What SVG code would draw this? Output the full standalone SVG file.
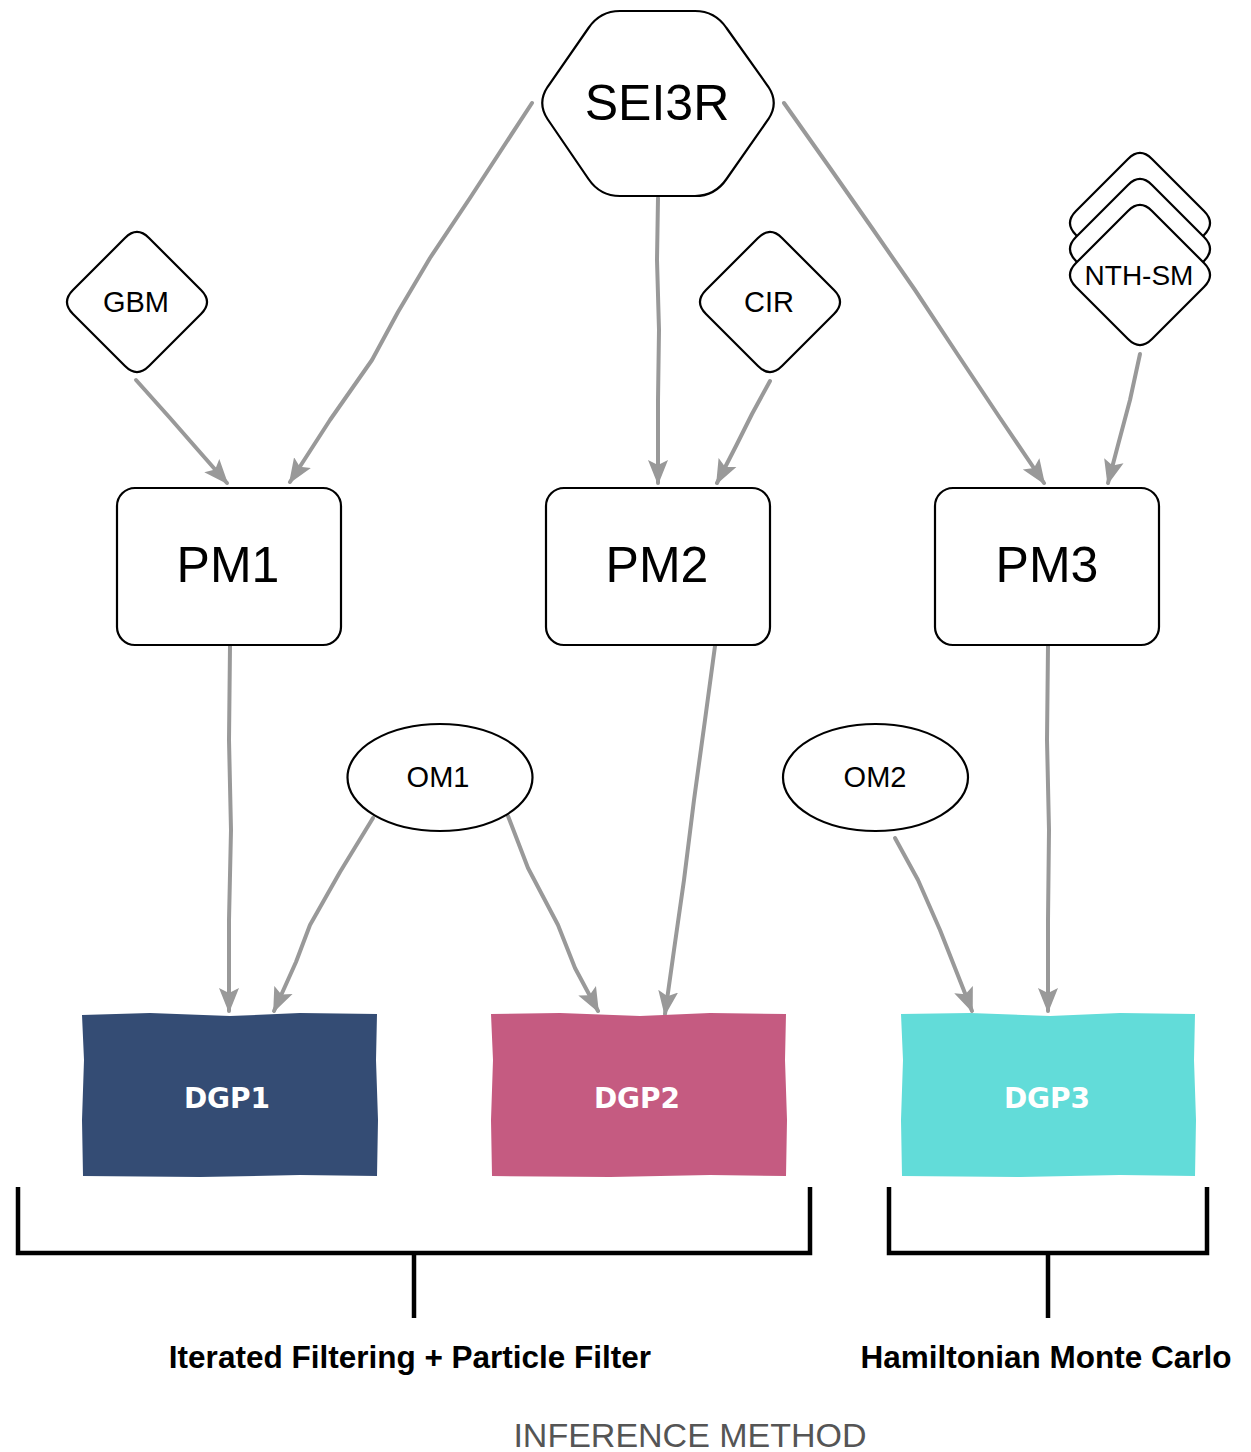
<svg xmlns="http://www.w3.org/2000/svg" width="1251" height="1452" viewBox="0 0 1251 1452">
<style>
.node{fill:#fff;stroke:#000;stroke-width:2.2}
.lbl{font-family:"Liberation Sans",Arial,sans-serif;fill:#000;text-anchor:middle}
.edge{fill:none;stroke:#999;stroke-width:4;stroke-linejoin:round;stroke-linecap:round;marker-end:url(#ah)}
.dgp{font-family:"DejaVu Sans",sans-serif;font-weight:bold;fill:#fff;text-anchor:middle;font-size:28px}
.br{fill:none;stroke:#000;stroke-width:4.5}
.bl{font-family:"Liberation Sans",Arial,sans-serif;font-weight:bold;font-size:31.5px;fill:#000;text-anchor:middle}
</style>
<defs>
<marker id="ah" markerUnits="userSpaceOnUse" markerWidth="26" markerHeight="22" viewBox="0 0 26 22" refX="23" refY="11" orient="auto">
<path d="M0,1 L25,11 L0,21 L5,11 Z" fill="#999"/>
</marker>
<path id="dia" d="M-12,-64 Q0,-76 12,-64 L64,-12 Q76,0 64,12 L12,64 Q0,76 -12,64 L-64,12 Q-76,0 -64,-12 Z"/>
</defs>
<rect width="1251" height="1452" fill="#fff"/>

<g id="connectors">
<path class="edge" d="M532,103 L500,152 L470,198 L430,258 L398,312 L372,360 L330,420 L290,482"/>
<path class="edge" d="M658,198 L657,260 L659,330 L658,400 L658,483"/>
<path class="edge" d="M784,103 L830,168 L872,228 L915,290 L958,355 L1000,418 L1044,483"/>
<path class="edge" d="M136,380 L170,418 L198,450 L227,483"/>
<path class="edge" d="M770,381 L752,414 L736,446 L717,483"/>
<path class="edge" d="M1140,354 L1130,400 L1118,445 L1108,483"/>
<path class="edge" d="M230,646 L229,740 L231,830 L229,920 L229,1011"/>
<path class="edge" d="M373,818 L340,872 L310,925 L296,962 L274,1011"/>
<path class="edge" d="M508,816 L528,868 L558,925 L575,968 L598,1011"/>
<path class="edge" d="M715,646 L705,720 L694,800 L684,880 L674,950 L665,1014"/>
<path class="edge" d="M895,838 L918,880 L940,930 L955,968 L972,1011"/>
<path class="edge" d="M1048,646 L1047,740 L1049,830 L1048,920 L1048,1011"/>
</g>

<g id="SEI3R">
<path class="node" d="M620,11 L695,11 Q715,11 726.5,28 L768.5,87 Q779,103 768.5,119 L726.5,179 Q715,196 695,196 L620,196 Q600,196 588.5,179 L547.5,119 Q537,103 547.5,87 L588.5,28 Q600,11 620,11 Z"/>
<text class="lbl" x="657" y="120" font-size="50">SEI3R</text>
</g>

<g id="GBM">
<use href="#dia" class="node" transform="translate(137,302)"/>
<text class="lbl" x="136" y="312" font-size="29">GBM</text>
</g>

<g id="CIR">
<use href="#dia" class="node" transform="translate(770,302)"/>
<text class="lbl" x="769" y="312" font-size="29">CIR</text>
</g>

<g id="NTH-SM">
<use href="#dia" class="node" transform="translate(1140,223)"/>
<use href="#dia" class="node" transform="translate(1140,249)"/>
<use href="#dia" class="node" transform="translate(1140,275)"/>
<text class="lbl" x="1139" y="285" font-size="28">NTH-SM</text>
</g>

<g id="PM1">
<rect class="node" x="117" y="488" width="224" height="157" rx="18"/>
<text class="lbl" x="228" y="582" font-size="50">PM1</text>
</g>
<g id="PM2">
<rect class="node" x="546" y="488" width="224" height="157" rx="18"/>
<text class="lbl" x="657" y="582" font-size="50">PM2</text>
</g>
<g id="PM3">
<rect class="node" x="935" y="488" width="224" height="157" rx="18"/>
<text class="lbl" x="1047" y="582" font-size="50">PM3</text>
</g>

<g id="OM1">
<ellipse class="node" cx="440" cy="777.5" rx="92.5" ry="53.5"/>
<text class="lbl" x="438" y="787" font-size="29">OM1</text>
</g>
<g id="OM2">
<ellipse class="node" cx="875.5" cy="777.5" rx="92.5" ry="53.5"/>
<text class="lbl" x="875" y="787" font-size="29">OM2</text>
</g>

<g id="DGP1">
<path fill="#344c74" d="M82,1015 L150,1013 L230,1016 L300,1013 L377,1014 L376,1060 L378,1120 L377,1176 L300,1175 L200,1177 L83,1176 L82,1120 L84,1060 Z"/>
<text class="dgp" x="227" y="1108">DGP1</text>
</g>
<g id="DGP2">
<path fill="#c55b81" d="M491,1014 L560,1013 L640,1016 L710,1013 L786,1014 L785,1060 L787,1120 L786,1176 L710,1175 L610,1177 L492,1176 L491,1120 L493,1060 Z"/>
<text class="dgp" x="637" y="1108">DGP2</text>
</g>
<g id="DGP3">
<path fill="#62dcd9" d="M901,1014 L970,1013 L1050,1016 L1120,1013 L1195,1014 L1194,1060 L1196,1120 L1195,1176 L1120,1175 L1020,1177 L902,1176 L901,1120 L903,1060 Z"/>
<text class="dgp" x="1047" y="1108">DGP3</text>
</g>

<g id="brackets">
<path class="br" d="M18,1187 L18,1253 L810,1253 L810,1187"/>
<path class="br" d="M414,1253 L414,1318"/>
<path class="br" d="M889,1187 L889,1253 L1207,1253 L1207,1187"/>
<path class="br" d="M1048,1253 L1048,1318"/>
</g>

<text class="bl" x="410" y="1368">Iterated Filtering + Particle Filter</text>
<text class="bl" x="1046" y="1368">Hamiltonian Monte Carlo</text>
<text x="690" y="1447" font-family="'Liberation Sans',Arial,sans-serif" font-size="34" fill="#555" text-anchor="middle">INFERENCE METHOD</text>
</svg>
